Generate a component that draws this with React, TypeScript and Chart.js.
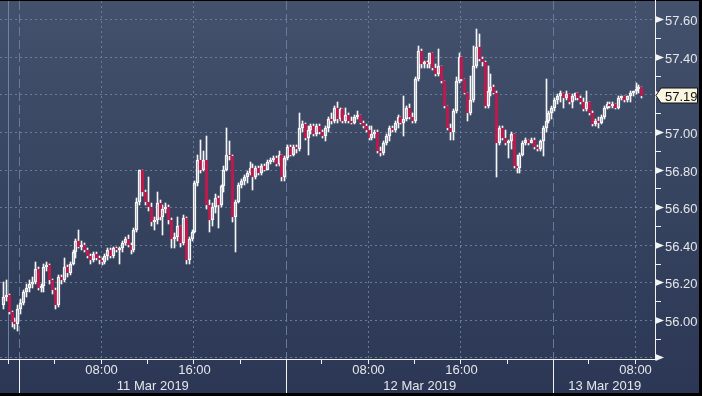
import React, { useEffect, useRef } from 'react';
import { Chart, registerables } from 'chart.js';

Chart.register(...registerables);

// ---- Data (15-minute candles, WTI crude) ----
const FIRST_OPEN = 56.08;
// session slot (15-min units, trading time) of first candle relative to 11 Mar 2019 00:00
const FIRST_SLOT = -5.5;

const closes = [
  56.12, 56.13, 56.04, 55.99, 55.98, 56.06, 56.09, 56.15, 56.17, 56.19,
  56.20, 56.27, 56.17, 56.18, 56.28, 56.29, 56.21, 56.16, 56.08, 56.23,
  56.21, 56.28, 56.25, 56.30, 56.36, 56.42, 56.39, 56.40, 56.37, 56.34,
  56.32, 56.35, 56.33, 56.32, 56.31, 56.34, 56.37, 56.34, 56.38, 56.37,
  56.38, 56.41, 56.43, 56.40, 56.37, 56.48, 56.63, 56.80, 56.68, 56.63,
  56.60, 56.52, 56.53, 56.62, 56.55, 56.59, 56.60, 56.53, 56.43, 56.44,
  56.50, 56.41, 56.54, 56.32, 56.43, 56.47, 56.73, 56.85, 56.80, 56.85,
  56.61, 56.53, 56.60, 56.65, 56.61, 56.71, 56.80, 56.88, 56.87, 56.55,
  56.63, 56.72, 56.74, 56.76, 56.78, 56.81, 56.76, 56.81, 56.78, 56.82,
  56.80, 56.84, 56.85, 56.86, 56.83, 56.88, 56.76, 56.86, 56.92, 56.88,
  56.92, 56.91, 57.02, 57.04, 56.97, 57.01, 57.03, 56.99, 57.03, 57.00,
  56.98, 57.02, 57.07, 57.06, 57.13, 57.07, 57.12, 57.06, 57.09, 57.06,
  57.05, 57.08, 57.09, 57.05, 57.03, 57.01, 56.97, 56.99, 57.00, 56.90,
  56.89, 56.94, 56.98, 57.02, 57.01, 57.05, 57.08, 57.05, 57.07, 57.13,
  57.08, 57.06, 57.28, 57.43, 57.36, 57.37, 57.36, 57.42, 57.34, 57.31,
  57.35, 57.27, 57.14, 57.02, 57.00, 57.11, 57.27, 57.40, 57.28, 57.21,
  57.10, 57.17, 57.35, 57.45, 57.39, 57.37, 57.14, 57.22, 57.24, 57.21,
  56.94, 57.02, 56.97, 56.94, 56.95, 56.99, 56.82, 56.81, 56.88, 56.94,
  56.96, 56.94, 56.96, 56.92, 56.91, 56.95, 57.02, 57.06, 57.10, 57.13,
  57.17, 57.19, 57.21, 57.18, 57.20, 57.16, 57.19, 57.21, 57.18, 57.16,
  57.12, 57.16, 57.10, 57.04, 57.06, 57.05, 57.08, 57.13, 57.15, 57.14,
  57.15, 57.13, 57.18, 57.19, 57.17, 57.19, 57.21, 57.22, 57.23, 57.24,
  57.19,
];

const highs = [
  56.20, 56.21, 56.14, 56.05, 56.01, 56.08, 56.11, 56.16, 56.19, 56.21,
  56.23, 56.31, 56.28, 56.19, 56.30, 56.31, 56.30, 56.22, 56.17, 56.24,
  56.24, 56.33, 56.29, 56.31, 56.37, 56.43, 56.48, 56.42, 56.41, 56.38,
  56.35, 56.36, 56.36, 56.34, 56.33, 56.35, 56.38, 56.38, 56.39, 56.39,
  56.39, 56.42, 56.44, 56.45, 56.41, 56.49, 56.65, 56.80, 56.80, 56.69,
  56.76, 56.62, 56.55, 56.68, 56.64, 56.61, 56.62, 56.61, 56.54, 56.46,
  56.55, 56.50, 56.56, 56.55, 56.44, 56.48, 56.74, 56.88, 56.96, 56.90,
  56.98, 56.64, 56.62, 56.67, 56.66, 56.72, 56.82, 57.02, 56.95, 56.88,
  56.64, 56.73, 56.75, 56.77, 56.79, 56.84, 56.83, 56.82, 56.82, 56.83,
  56.83, 56.85, 56.86, 56.87, 56.87, 56.90, 56.88, 56.87, 56.93, 56.93,
  56.93, 56.93, 57.10, 57.06, 57.05, 57.03, 57.04, 57.04, 57.04, 57.04,
  57.01, 57.03, 57.08, 57.10, 57.14, 57.16, 57.13, 57.12, 57.13, 57.10,
  57.08, 57.09, 57.11, 57.09, 57.06, 57.04, 57.03, 57.03, 57.01, 57.01,
  56.92, 56.95, 56.99, 57.03, 57.03, 57.06, 57.09, 57.08, 57.19, 57.14,
  57.15, 57.10, 57.29, 57.46, 57.44, 57.38, 57.38, 57.42, 57.39, 57.36,
  57.44, 57.34, 57.27, 57.14, 57.04, 57.12, 57.29, 57.42, 57.40, 57.28,
  57.21, 57.30, 57.46, 57.55, 57.52, 57.40, 57.38, 57.35, 57.31, 57.25,
  57.22, 57.03, 57.03, 57.01, 56.96, 57.00, 56.99, 56.88, 56.89, 56.95,
  56.97, 56.96, 56.97, 56.97, 56.93, 56.96, 57.03, 57.28, 57.11, 57.14,
  57.18, 57.20, 57.22, 57.21, 57.22, 57.20, 57.20, 57.21, 57.21, 57.19,
  57.18, 57.22, 57.16, 57.11, 57.07, 57.08, 57.09, 57.14, 57.16, 57.16,
  57.16, 57.15, 57.19, 57.19, 57.19, 57.19, 57.22, 57.22, 57.26, 57.25,
  57.24,
];

const lows = [
  56.06, 56.10, 56.03, 55.96, 55.95, 55.94, 56.03, 56.08, 56.12, 56.15,
  56.17, 56.19, 56.16, 56.15, 56.15, 56.26, 56.19, 56.14, 56.06, 56.07,
  56.19, 56.20, 56.23, 56.24, 56.29, 56.33, 56.38, 56.37, 56.36, 56.33,
  56.30, 56.31, 56.32, 56.30, 56.29, 56.30, 56.32, 56.33, 56.33, 56.36,
  56.30, 56.36, 56.40, 56.39, 56.35, 56.36, 56.47, 56.61, 56.66, 56.61,
  56.58, 56.50, 56.48, 56.51, 56.53, 56.45, 56.57, 56.51, 56.38, 56.38,
  56.42, 56.39, 56.40, 56.30, 56.30, 56.42, 56.46, 56.71, 56.78, 56.79,
  56.59, 56.47, 56.50, 56.57, 56.49, 56.60, 56.68, 56.79, 56.85, 56.52,
  56.36, 56.62, 56.70, 56.72, 56.73, 56.77, 56.69, 56.75, 56.77, 56.77,
  56.79, 56.80, 56.83, 56.84, 56.82, 56.82, 56.74, 56.74, 56.85, 56.87,
  56.87, 56.89, 56.90, 57.00, 56.96, 56.88, 56.99, 56.98, 56.98, 56.99,
  56.97, 56.95, 57.00, 57.04, 57.05, 57.05, 57.06, 57.05, 57.05, 57.05,
  57.04, 57.04, 57.07, 57.04, 57.02, 57.00, 56.96, 56.96, 56.97, 56.89,
  56.87, 56.88, 56.93, 56.95, 57.00, 57.00, 57.02, 57.04, 56.98, 57.06,
  57.07, 57.05, 57.05, 57.27, 57.34, 57.34, 57.34, 57.34, 57.33, 57.30,
  57.30, 57.26, 57.13, 57.01, 56.96, 56.96, 57.10, 57.26, 57.27, 57.20,
  57.06, 57.09, 57.16, 57.34, 57.38, 57.35, 57.13, 57.13, 57.19, 57.20,
  56.76, 56.93, 56.96, 56.93, 56.86, 56.91, 56.81, 56.78, 56.78, 56.87,
  56.93, 56.93, 56.94, 56.91, 56.90, 56.90, 56.87, 57.00, 57.05, 57.07,
  57.11, 57.15, 57.16, 57.13, 57.17, 57.15, 57.13, 57.17, 57.17, 57.15,
  57.11, 57.11, 57.09, 57.03, 57.03, 57.02, 57.04, 57.07, 57.12, 57.13,
  57.13, 57.12, 57.12, 57.17, 57.16, 57.16, 57.16, 57.19, 57.20, 57.21,
  57.18,
];

// ---- Axes ----
const Y_MIN = 55.792;
const Y_MAX = 57.697;
const yMajorTicks = [55.8, 56.0, 56.2, 56.4, 56.6, 56.8, 57.0, 57.2, 57.4, 57.6];
const yMinorTicks = [55.9, 56.1, 56.3, 56.5, 56.7, 56.9, 57.1, 57.3, 57.5];
const yLabelTicks = [56.0, 56.2, 56.4, 56.6, 56.8, 57.0, 57.2, 57.4, 57.6];

const X_MIN = -6.66;
const X_MAX = 219.38;
// tick positions in trading slots (15 min) from 11 Mar 00:00 (the 00:00-01:00 hour is not traded)
const xTickSlots = [-4, 12, 28, 44, 60, 76, 104, 120, 136, 152, 168, 196, 212];
const xTickLabels = ['', '', '08:00', '', '16:00', '', '', '08:00', '', '16:00', '', '', '08:00'];
const daySlots = [0, 92, 184];
const dayLabels = ['11 Mar 2019', '12 Mar 2019', '13 Mar 2019'];
const markerSlot = -4;

// ---- Style ----
const FONT = '13px "Liberation Sans", Arial, sans-serif';
const TEXT = '#e4e6ea';
const AXIS = '#f2f2f2';
const GRID = 'rgba(110,135,165,0.85)';
const DAY_GRID = 'rgba(105,130,160,0.9)';
const MARKER = 'rgba(110,135,162,0.95)';
const RED = '#b81c4e';
const WHITE = '#f6f6f6';

const opens = closes.map((c, i) => (i === 0 ? FIRST_OPEN : closes[i - 1]));
const slots = closes.map((_, i) => FIRST_SLOT + i);
const upWicks = closes.map((c, i) => ({
  x: slots[i],
  y: [Math.max(opens[i], c), Math.max(highs[i], opens[i], c)],
}));
const lowWicks = closes.map((c, i) => ({
  x: slots[i],
  y: [Math.min(lows[i], opens[i], c), Math.min(opens[i], c)],
}));
const bodies = closes.map((c, i) => ({ x: slots[i], y: [opens[i], c] }));
const isUp = closes.map((c, i) => c >= opens[i]);

// snap the bar elements (positioned by the scales) onto whole pixels for crisp candles
const snapPlugin = {
  id: 'snap',
  afterDatasetsUpdate(chart: any) {
    chart.data.datasets.forEach((_: any, di: number) => {
      const meta = chart.getDatasetMeta(di);
      meta.data.forEach((el: any) => {
        el.x = Math.floor(el.x) + 0.5;
        el.y = Math.round(el.y);
        el.base = Math.round(el.base);
      });
    });
  },
};

const panelPlugin = {
  id: 'panel',
  beforeDraw(chart: any) {
    const { ctx, width, height } = chart;
    ctx.save();
    ctx.fillStyle = '#000';
    ctx.fillRect(0, 0, width, height);
    const g = ctx.createLinearGradient(0, 1, 0, 393);
    g.addColorStop(0, '#43516c');
    g.addColorStop(1, '#2b3754');
    ctx.fillStyle = g;
    ctx.fillRect(0, 1, 699, 392);
    ctx.restore();
  },
  beforeDatasetsDraw(chart: any) {
    const { ctx, chartArea: a, scales } = chart;
    const x = scales.x;
    const y = scales.y;
    const line = (x1: number, y1: number, x2: number, y2: number) => {
      ctx.beginPath();
      ctx.moveTo(x1, y1);
      ctx.lineTo(x2, y2);
      ctx.stroke();
    };
    ctx.save();
    ctx.lineWidth = 1;
    ctx.strokeStyle = GRID;
    ctx.setLineDash([2, 3]);
    yMajorTicks.forEach((v) => {
      const py = Math.round(y.getPixelForValue(v)) + 0.5;
      line(a.left, py, a.right, py);
    });
    xTickSlots.forEach((v, i) => {
      if (!xTickLabels[i]) return;
      const px = Math.round(x.getPixelForValue(v)) + 0.5;
      line(px, a.top, px, a.bottom);
    });
    ctx.strokeStyle = DAY_GRID;
    ctx.setLineDash([9, 4]);
    daySlots.forEach((v) => {
      const px = Math.round(x.getPixelForValue(v)) + 0.5;
      line(px, a.top, px, a.bottom);
    });
    ctx.setLineDash([]);
    ctx.strokeStyle = MARKER;
    const mx = Math.round(x.getPixelForValue(markerSlot)) + 0.5;
    line(mx, a.top, mx, a.bottom);
    ctx.restore();
  },
  afterDatasetsDraw(chart: any) {
    const { ctx, chartArea: a, scales } = chart;
    const x = scales.x;
    const y = scales.y;
    const line = (x1: number, y1: number, x2: number, y2: number) => {
      ctx.beginPath();
      ctx.moveTo(x1, y1);
      ctx.lineTo(x2, y2);
      ctx.stroke();
    };
    ctx.save();
    ctx.lineWidth = 1;
    ctx.strokeStyle = AXIS;
    ctx.fillStyle = AXIS;
    const ax = a.right - 0.5;
    const ay = a.bottom + 0.5;
    // axis lines
    line(0, ay, a.right, ay);
    line(ax, 0, ax, a.bottom + 1);
    // y arrows and minor ticks
    yMajorTicks.forEach((v) => {
      const py = Math.round(y.getPixelForValue(v)) + 0.5;
      ctx.beginPath();
      ctx.moveTo(a.right - 0.5, py - 3.5);
      ctx.lineTo(a.right + 8, py);
      ctx.lineTo(a.right - 0.5, py + 3.5);
      ctx.closePath();
      ctx.fill();
    });
    yMinorTicks.forEach((v) => {
      const py = Math.round(y.getPixelForValue(v)) + 0.5;
      line(a.right, py, a.right + 5, py);
    });
    // x ticks
    xTickSlots.forEach((v) => {
      const px = Math.round(x.getPixelForValue(v)) + 0.5;
      line(px, a.bottom, px, a.bottom + 5);
    });
    daySlots.forEach((v) => {
      const px = Math.round(x.getPixelForValue(v)) + 0.5;
      line(px, a.bottom, px, 393);
    });
    // labels
    ctx.font = FONT;
    ctx.fillStyle = TEXT;
    ctx.textBaseline = 'alphabetic';
    ctx.textAlign = 'left';
    yLabelTicks.forEach((v) => {
      const py = Math.round(y.getPixelForValue(v));
      ctx.fillText(v.toFixed(2), a.right + 9, py + 6);
    });
    ctx.textAlign = 'center';
    xTickSlots.forEach((v, i) => {
      if (!xTickLabels[i]) return;
      const px = x.getPixelForValue(v);
      ctx.fillText(xTickLabels[i], px + 1, 374);
    });
    daySlots.forEach((v, i) => {
      const start = Math.max(x.getPixelForValue(v), a.left);
      const end = i + 1 < daySlots.length ? x.getPixelForValue(daySlots[i + 1]) : a.right;
      ctx.fillText(dayLabels[i], (start + Math.min(end, a.right)) / 2, 390);
    });
    // last price box
    const last = closes[closes.length - 1];
    const cy = Math.round(y.getPixelForValue(last)) - 0.5;
    ctx.beginPath();
    ctx.moveTo(a.right, cy);
    ctx.lineTo(a.right + 5, cy - 7.5);
    ctx.lineTo(697.5, cy - 7.5);
    ctx.lineTo(697.5, cy + 7.5);
    ctx.lineTo(a.right + 5, cy + 7.5);
    ctx.closePath();
    ctx.fillStyle = '#fbf6e2';
    ctx.fill();
    ctx.strokeStyle = '#111';
    ctx.stroke();
    ctx.fillStyle = '#111';
    ctx.textAlign = 'left';
    ctx.fillText(last.toFixed(2), a.right + 9, cy + 5);
    ctx.restore();
  },
};

export default function App() {
  const ref = useRef<HTMLCanvasElement | null>(null);
  useEffect(() => {
    if (!ref.current) return;
    const chart = new Chart(ref.current, {
      type: 'bar',
      data: {
        datasets: [
          {
            label: 'body',
            data: bodies as any,
            barThickness: 3,
            minBarLength: 1,
            borderWidth: 1,
            borderSkipped: false,
            backgroundColor: (c: any) => (isUp[c.dataIndex] ? 'rgba(0,0,0,0)' : RED),
            borderColor: (c: any) => (isUp[c.dataIndex] ? WHITE : RED),
          } as any,
          {
            label: 'upper wick',
            data: upWicks as any,
            barThickness: 1,
            borderWidth: 0,
            backgroundColor: WHITE,
          } as any,
          {
            label: 'lower wick',
            data: lowWicks as any,
            barThickness: 1,
            borderWidth: 0,
            backgroundColor: WHITE,
          } as any,
        ],
      },
      options: {
        animation: false,
        responsive: false,
        events: [],
        layout: { padding: { top: 1, left: 0, right: 0, bottom: 0 } },
        datasets: { bar: { grouped: false } } as any,
        plugins: { legend: { display: false }, tooltip: { enabled: false } },
        scales: {
          x: {
            type: 'linear',
            min: X_MIN,
            max: X_MAX,
            offset: false,
            grid: { display: false },
            border: { display: false },
            ticks: { display: false },
            afterBuildTicks: (s: any) => {
              s.ticks = xTickSlots.map((v) => ({ value: v }));
            },
            afterFit: (s: any) => {
              s.height = 37;
            },
          },
          y: {
            type: 'linear',
            position: 'right',
            min: Y_MIN,
            max: Y_MAX,
            grid: { display: false },
            border: { display: false },
            ticks: { display: false },
            afterBuildTicks: (s: any) => {
              s.ticks = yMajorTicks.map((v) => ({ value: v }));
            },
            afterFit: (s: any) => {
              s.width = 46;
            },
          },
        },
      } as any,
      plugins: [snapPlugin, panelPlugin],
    });
    return () => chart.destroy();
  }, []);
  return (
    <div style={{ position: 'fixed', left: 0, top: 0, width: 702, height: 396, background: '#000' }}>
      <canvas ref={ref} width={702} height={396} style={{ display: 'block', width: 702, height: 396 }} />
    </div>
  );
}
